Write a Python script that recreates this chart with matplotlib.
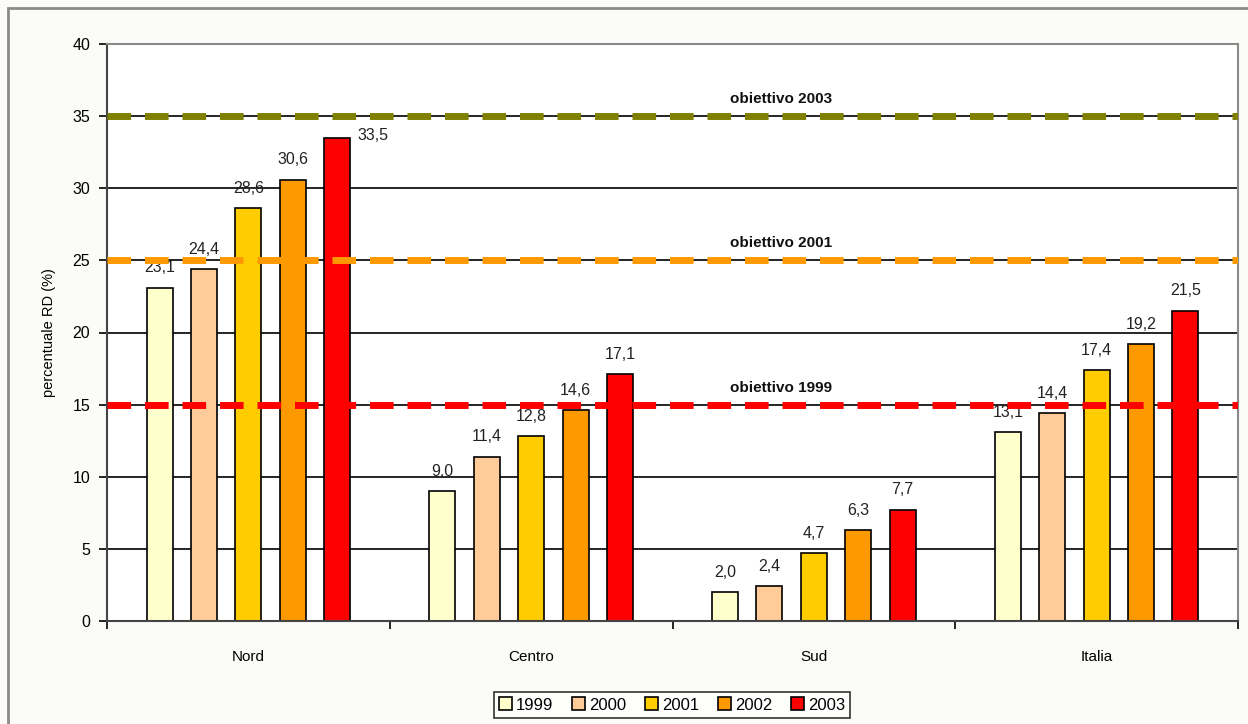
import numpy as np
import matplotlib
matplotlib.use("Agg")
import matplotlib.pyplot as plt
from matplotlib.patches import Rectangle

plt.rcParams["font.family"] = ["Liberation Sans", "DejaVu Sans"]

regions = ["Nord", "Centro", "Sud", "Italia"]
years = ["1999", "2000", "2001", "2002", "2003"]
values = {
    "1999": [23.1, 9.0, 2.0, 13.1],
    "2000": [24.4, 11.4, 2.4, 14.4],
    "2001": [28.6, 12.8, 4.7, 17.4],
    "2002": [30.6, 14.6, 6.3, 19.2],
    "2003": [33.5, 17.1, 7.7, 21.5],
}
bar_colors = ["#FFFFCC", "#FFCC99", "#FFCC00", "#FF9900", "#FF0000"]
targets = [35, 25, 15]
target_labels = ["obiettivo 2003", "obiettivo 2001", "obiettivo 1999"]
target_colors = ["#808000", "#FF9900", "#FF0000"]

fig = plt.figure(figsize=(12.48, 7.24), dpi=100, facecolor="#FBFBF7")
# outer chart frame
fig.patches.append(Rectangle((8 / 1248, -0.05), 1.1, 1 - 8 / 724 + 0.05,
                             transform=fig.transFigure, fill=False,
                             edgecolor="#8a8a8a", lw=2))
ax = fig.add_axes([107 / 1248, 103 / 724, 1131 / 1248, 577 / 724])
ax.set_facecolor("white")

x = np.arange(len(regions))
step, width = 0.157, 0.092
for j, (yr, col) in enumerate(zip(years, bar_colors)):
    pos = x + (j - 2) * step
    ax.bar(pos, values[yr], width, color=col, edgecolor="black", lw=1.2,
           zorder=2, label=yr)
    for px, v in zip(pos, values[yr]):
        txt = f"{v:.1f}".replace(".", ",")
        if v > 33:  # no room under the 2003 target line
            ax.annotate(txt, (px + width / 2, v), xytext=(5, -4), textcoords="offset points",
                        ha="left", va="bottom", fontsize=11.5, color="#222222")
        else:
            ax.annotate(txt, (px, v), xytext=(0, 9), textcoords="offset points",
                        ha="center", va="bottom", fontsize=11.5, color="#222222")

for t, lab, col in zip(targets, target_labels, target_colors):
    ax.axhline(t, color=col, lw=5, dashes=(3.4, 2.0), dash_capstyle="butt", zorder=3)
    ax.text(0.596, t + 0.7, lab, transform=ax.get_yaxis_transform(), ha="center",
            va="bottom", fontsize=11, fontweight="bold", color="#111111", zorder=4)

ax.set_ylim(0, 40)
ax.set_xlim(-0.5, 3.5)
ax.set_yticks(range(0, 41, 5))
ax.yaxis.grid(True, color="black", lw=1.2, zorder=0)
ax.set_axisbelow(True)
ax.tick_params(axis="y", direction="out", length=6, width=1.2, labelsize=11.5, pad=6)
ax.set_xticks(x)
ax.set_xticklabels(regions, fontsize=11)
ax.tick_params(axis="x", length=0, pad=21)
ax.set_xticks(np.arange(-0.5, 4, 1), minor=True)
ax.tick_params(axis="x", which="minor", direction="out", length=6, width=1.2)
ax.set_ylabel("percentuale RD (%)", fontsize=10.5, labelpad=12)

for s in ["top", "right"]:
    ax.spines[s].set_color("#8a8a8a")
    ax.spines[s].set_linewidth(1.5)
for s in ["left", "bottom"]:
    ax.spines[s].set_color("#444444")
    ax.spines[s].set_linewidth(1.5)

leg = fig.legend(loc="center", bbox_to_anchor=(672 / 1248, 1 - 705 / 724), ncol=5,
                 fontsize=12, frameon=True, fancybox=False, edgecolor="black",
                 handlelength=0.8, handleheight=0.8, handletextpad=0.25,
                 columnspacing=1.1, borderpad=0.3, borderaxespad=0)
leg.get_frame().set_linewidth(1.2)

fig.savefig("out.png", dpi=100, facecolor=fig.get_facecolor())
